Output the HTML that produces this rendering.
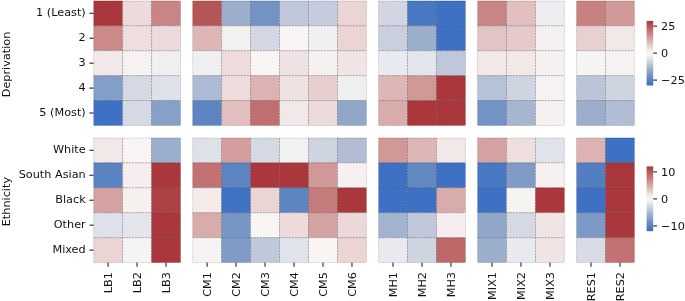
<!DOCTYPE html>
<html><head><meta charset="utf-8"><title>Heatmap</title>
<style>html,body{margin:0;padding:0;background:#fff;}svg{display:block;}text{font-family:"DejaVu Sans","Liberation Sans",sans-serif;font-size:11.25px;fill:#111111;}</style></head><body>
<svg width="685" height="301" viewBox="0 0 685 301">
<rect width="685" height="301" fill="#ffffff"/>
<g opacity="0.999">
<rect x="93.60" y="0.80" width="29.03" height="24.99" fill="#a9373c"/>
<rect x="93.60" y="25.74" width="29.03" height="24.99" fill="#cb8989"/>
<rect x="93.60" y="50.68" width="29.03" height="24.99" fill="#f3e8e8"/>
<rect x="93.60" y="75.62" width="29.03" height="24.99" fill="#839ec7"/>
<rect x="93.60" y="100.56" width="29.03" height="24.99" fill="#3e70c4"/>
<rect x="122.58" y="0.80" width="29.03" height="24.99" fill="#eddada"/>
<rect x="122.58" y="25.74" width="29.03" height="24.99" fill="#efdede"/>
<rect x="122.58" y="50.68" width="29.03" height="24.99" fill="#f7f2f2"/>
<rect x="122.58" y="75.62" width="29.03" height="24.99" fill="#d5d9e4"/>
<rect x="122.58" y="100.56" width="29.03" height="24.99" fill="#d5d9e4"/>
<rect x="151.56" y="0.80" width="29.03" height="24.99" fill="#c98585"/>
<rect x="151.56" y="25.74" width="29.03" height="24.99" fill="#eddada"/>
<rect x="151.56" y="50.68" width="29.03" height="24.99" fill="#efeff2"/>
<rect x="151.56" y="75.62" width="29.03" height="24.99" fill="#dfe1ea"/>
<rect x="151.56" y="100.56" width="29.03" height="24.99" fill="#87a0c8"/>
<rect x="192.59" y="0.80" width="29.03" height="24.99" fill="#b65556"/>
<rect x="192.59" y="25.74" width="29.03" height="24.99" fill="#deb6b6"/>
<rect x="192.59" y="50.68" width="29.03" height="24.99" fill="#efeff2"/>
<rect x="192.59" y="75.62" width="29.03" height="24.99" fill="#acbad3"/>
<rect x="192.59" y="100.56" width="29.03" height="24.99" fill="#5d85c1"/>
<rect x="221.57" y="0.80" width="29.03" height="24.99" fill="#9baecc"/>
<rect x="221.57" y="25.74" width="29.03" height="24.99" fill="#f2f1f2"/>
<rect x="221.57" y="50.68" width="29.03" height="24.99" fill="#eedcdc"/>
<rect x="221.57" y="75.62" width="29.03" height="24.99" fill="#eedcdc"/>
<rect x="221.57" y="100.56" width="29.03" height="24.99" fill="#e2c0c0"/>
<rect x="250.55" y="0.80" width="29.03" height="24.99" fill="#7293c3"/>
<rect x="250.55" y="25.74" width="29.03" height="24.99" fill="#d3d7e3"/>
<rect x="250.55" y="50.68" width="29.03" height="24.99" fill="#f8f5f4"/>
<rect x="250.55" y="75.62" width="29.03" height="24.99" fill="#dcb2b2"/>
<rect x="250.55" y="100.56" width="29.03" height="24.99" fill="#c06e6f"/>
<rect x="279.53" y="0.80" width="29.03" height="24.99" fill="#bec8da"/>
<rect x="279.53" y="25.74" width="29.03" height="24.99" fill="#f8f5f4"/>
<rect x="279.53" y="50.68" width="29.03" height="24.99" fill="#f0e2e2"/>
<rect x="279.53" y="75.62" width="29.03" height="24.99" fill="#f0e2e2"/>
<rect x="279.53" y="100.56" width="29.03" height="24.99" fill="#f3e8e8"/>
<rect x="308.51" y="0.80" width="29.03" height="24.99" fill="#c5ccdd"/>
<rect x="308.51" y="25.74" width="29.03" height="24.99" fill="#f0eff2"/>
<rect x="308.51" y="50.68" width="29.03" height="24.99" fill="#f6f1f0"/>
<rect x="308.51" y="75.62" width="29.03" height="24.99" fill="#e8cece"/>
<rect x="308.51" y="100.56" width="29.03" height="24.99" fill="#eddada"/>
<rect x="337.49" y="0.80" width="29.03" height="24.99" fill="#ead4d4"/>
<rect x="337.49" y="25.74" width="29.03" height="24.99" fill="#ead4d4"/>
<rect x="337.49" y="50.68" width="29.03" height="24.99" fill="#f1e4e4"/>
<rect x="337.49" y="75.62" width="29.03" height="24.99" fill="#efeff2"/>
<rect x="337.49" y="100.56" width="29.03" height="24.99" fill="#91a7ca"/>
<rect x="378.52" y="0.80" width="29.03" height="24.99" fill="#d1d6e2"/>
<rect x="378.52" y="25.74" width="29.03" height="24.99" fill="#c9cfde"/>
<rect x="378.52" y="50.68" width="29.03" height="24.99" fill="#e9eaef"/>
<rect x="378.52" y="75.62" width="29.03" height="24.99" fill="#deb6b6"/>
<rect x="378.52" y="100.56" width="29.03" height="24.99" fill="#d9acac"/>
<rect x="407.50" y="0.80" width="29.03" height="24.99" fill="#4878c2"/>
<rect x="407.50" y="25.74" width="29.03" height="24.99" fill="#9baecc"/>
<rect x="407.50" y="50.68" width="29.03" height="24.99" fill="#e3e5ec"/>
<rect x="407.50" y="75.62" width="29.03" height="24.99" fill="#d19898"/>
<rect x="407.50" y="100.56" width="29.03" height="24.99" fill="#a9373c"/>
<rect x="436.48" y="0.80" width="29.03" height="24.99" fill="#3e70c4"/>
<rect x="436.48" y="25.74" width="29.03" height="24.99" fill="#3e70c4"/>
<rect x="436.48" y="50.68" width="29.03" height="24.99" fill="#bec8da"/>
<rect x="436.48" y="75.62" width="29.03" height="24.99" fill="#a9373c"/>
<rect x="436.48" y="100.56" width="29.03" height="24.99" fill="#a9373c"/>
<rect x="477.51" y="0.80" width="29.03" height="24.99" fill="#c98585"/>
<rect x="477.51" y="25.74" width="29.03" height="24.99" fill="#e3c4c4"/>
<rect x="477.51" y="50.68" width="29.03" height="24.99" fill="#f3e8e8"/>
<rect x="477.51" y="75.62" width="29.03" height="24.99" fill="#b6c2d7"/>
<rect x="477.51" y="100.56" width="29.03" height="24.99" fill="#7293c3"/>
<rect x="506.49" y="0.80" width="29.03" height="24.99" fill="#e2c0c0"/>
<rect x="506.49" y="25.74" width="29.03" height="24.99" fill="#e6caca"/>
<rect x="506.49" y="50.68" width="29.03" height="24.99" fill="#f3e8e8"/>
<rect x="506.49" y="75.62" width="29.03" height="24.99" fill="#cfd4e1"/>
<rect x="506.49" y="100.56" width="29.03" height="24.99" fill="#a5b6d0"/>
<rect x="535.47" y="0.80" width="29.03" height="24.99" fill="#ededf1"/>
<rect x="535.47" y="25.74" width="29.03" height="24.99" fill="#f6f1f0"/>
<rect x="535.47" y="50.68" width="29.03" height="24.99" fill="#f6f1f0"/>
<rect x="535.47" y="75.62" width="29.03" height="24.99" fill="#f7f2f2"/>
<rect x="535.47" y="100.56" width="29.03" height="24.99" fill="#f6f1f0"/>
<rect x="576.50" y="0.80" width="29.03" height="24.99" fill="#c88181"/>
<rect x="576.50" y="25.74" width="29.03" height="24.99" fill="#e9d0d0"/>
<rect x="576.50" y="50.68" width="29.03" height="24.99" fill="#f5f3f3"/>
<rect x="576.50" y="75.62" width="29.03" height="24.99" fill="#bac5d9"/>
<rect x="576.50" y="100.56" width="29.03" height="24.99" fill="#9baecc"/>
<rect x="605.48" y="0.80" width="29.03" height="24.99" fill="#d19898"/>
<rect x="605.48" y="25.74" width="29.03" height="24.99" fill="#f3e8e8"/>
<rect x="605.48" y="50.68" width="29.03" height="24.99" fill="#f7f2f2"/>
<rect x="605.48" y="75.62" width="29.03" height="24.99" fill="#cfd4e1"/>
<rect x="605.48" y="100.56" width="29.03" height="24.99" fill="#b0bdd4"/>
<clipPath id="c0"><rect x="93.60" y="0.80" width="86.94" height="124.70"/><rect x="192.59" y="0.80" width="173.88" height="124.70"/><rect x="378.52" y="0.80" width="86.94" height="124.70"/><rect x="477.51" y="0.80" width="86.94" height="124.70"/><rect x="576.50" y="0.80" width="57.96" height="124.70"/></clipPath>
<g clip-path="url(#c0)">
<line x1="93.60" y1="0.80" x2="180.54" y2="0.80" stroke="rgba(0,0,0,0.6)" stroke-width="0.5" stroke-dasharray="2.3 0.9"/>
<line x1="93.60" y1="25.74" x2="180.54" y2="25.74" stroke="rgba(0,0,0,0.6)" stroke-width="0.5" stroke-dasharray="2.3 0.9"/>
<line x1="93.60" y1="50.68" x2="180.54" y2="50.68" stroke="rgba(0,0,0,0.6)" stroke-width="0.5" stroke-dasharray="2.3 0.9"/>
<line x1="93.60" y1="75.62" x2="180.54" y2="75.62" stroke="rgba(0,0,0,0.6)" stroke-width="0.5" stroke-dasharray="2.3 0.9"/>
<line x1="93.60" y1="100.56" x2="180.54" y2="100.56" stroke="rgba(0,0,0,0.6)" stroke-width="0.5" stroke-dasharray="2.3 0.9"/>
<line x1="93.60" y1="125.50" x2="180.54" y2="125.50" stroke="rgba(0,0,0,0.6)" stroke-width="0.5" stroke-dasharray="2.3 0.9"/>
<line x1="93.60" y1="0.80" x2="93.60" y2="125.50" stroke="rgba(0,0,0,0.6)" stroke-width="0.5" stroke-dasharray="2.3 0.9"/>
<line x1="122.58" y1="0.80" x2="122.58" y2="125.50" stroke="rgba(0,0,0,0.6)" stroke-width="0.5" stroke-dasharray="2.3 0.9"/>
<line x1="151.56" y1="0.80" x2="151.56" y2="125.50" stroke="rgba(0,0,0,0.6)" stroke-width="0.5" stroke-dasharray="2.3 0.9"/>
<line x1="180.54" y1="0.80" x2="180.54" y2="125.50" stroke="rgba(0,0,0,0.6)" stroke-width="0.5" stroke-dasharray="2.3 0.9"/>
<line x1="192.59" y1="0.80" x2="366.47" y2="0.80" stroke="rgba(0,0,0,0.6)" stroke-width="0.5" stroke-dasharray="2.3 0.9"/>
<line x1="192.59" y1="25.74" x2="366.47" y2="25.74" stroke="rgba(0,0,0,0.6)" stroke-width="0.5" stroke-dasharray="2.3 0.9"/>
<line x1="192.59" y1="50.68" x2="366.47" y2="50.68" stroke="rgba(0,0,0,0.6)" stroke-width="0.5" stroke-dasharray="2.3 0.9"/>
<line x1="192.59" y1="75.62" x2="366.47" y2="75.62" stroke="rgba(0,0,0,0.6)" stroke-width="0.5" stroke-dasharray="2.3 0.9"/>
<line x1="192.59" y1="100.56" x2="366.47" y2="100.56" stroke="rgba(0,0,0,0.6)" stroke-width="0.5" stroke-dasharray="2.3 0.9"/>
<line x1="192.59" y1="125.50" x2="366.47" y2="125.50" stroke="rgba(0,0,0,0.6)" stroke-width="0.5" stroke-dasharray="2.3 0.9"/>
<line x1="192.59" y1="0.80" x2="192.59" y2="125.50" stroke="rgba(0,0,0,0.6)" stroke-width="0.5" stroke-dasharray="2.3 0.9"/>
<line x1="221.57" y1="0.80" x2="221.57" y2="125.50" stroke="rgba(0,0,0,0.6)" stroke-width="0.5" stroke-dasharray="2.3 0.9"/>
<line x1="250.55" y1="0.80" x2="250.55" y2="125.50" stroke="rgba(0,0,0,0.6)" stroke-width="0.5" stroke-dasharray="2.3 0.9"/>
<line x1="279.53" y1="0.80" x2="279.53" y2="125.50" stroke="rgba(0,0,0,0.6)" stroke-width="0.5" stroke-dasharray="2.3 0.9"/>
<line x1="308.51" y1="0.80" x2="308.51" y2="125.50" stroke="rgba(0,0,0,0.6)" stroke-width="0.5" stroke-dasharray="2.3 0.9"/>
<line x1="337.49" y1="0.80" x2="337.49" y2="125.50" stroke="rgba(0,0,0,0.6)" stroke-width="0.5" stroke-dasharray="2.3 0.9"/>
<line x1="366.47" y1="0.80" x2="366.47" y2="125.50" stroke="rgba(0,0,0,0.6)" stroke-width="0.5" stroke-dasharray="2.3 0.9"/>
<line x1="378.52" y1="0.80" x2="465.46" y2="0.80" stroke="rgba(0,0,0,0.6)" stroke-width="0.5" stroke-dasharray="2.3 0.9"/>
<line x1="378.52" y1="25.74" x2="465.46" y2="25.74" stroke="rgba(0,0,0,0.6)" stroke-width="0.5" stroke-dasharray="2.3 0.9"/>
<line x1="378.52" y1="50.68" x2="465.46" y2="50.68" stroke="rgba(0,0,0,0.6)" stroke-width="0.5" stroke-dasharray="2.3 0.9"/>
<line x1="378.52" y1="75.62" x2="465.46" y2="75.62" stroke="rgba(0,0,0,0.6)" stroke-width="0.5" stroke-dasharray="2.3 0.9"/>
<line x1="378.52" y1="100.56" x2="465.46" y2="100.56" stroke="rgba(0,0,0,0.6)" stroke-width="0.5" stroke-dasharray="2.3 0.9"/>
<line x1="378.52" y1="125.50" x2="465.46" y2="125.50" stroke="rgba(0,0,0,0.6)" stroke-width="0.5" stroke-dasharray="2.3 0.9"/>
<line x1="378.52" y1="0.80" x2="378.52" y2="125.50" stroke="rgba(0,0,0,0.6)" stroke-width="0.5" stroke-dasharray="2.3 0.9"/>
<line x1="407.50" y1="0.80" x2="407.50" y2="125.50" stroke="rgba(0,0,0,0.6)" stroke-width="0.5" stroke-dasharray="2.3 0.9"/>
<line x1="436.48" y1="0.80" x2="436.48" y2="125.50" stroke="rgba(0,0,0,0.6)" stroke-width="0.5" stroke-dasharray="2.3 0.9"/>
<line x1="465.46" y1="0.80" x2="465.46" y2="125.50" stroke="rgba(0,0,0,0.6)" stroke-width="0.5" stroke-dasharray="2.3 0.9"/>
<line x1="477.51" y1="0.80" x2="564.45" y2="0.80" stroke="rgba(0,0,0,0.6)" stroke-width="0.5" stroke-dasharray="2.3 0.9"/>
<line x1="477.51" y1="25.74" x2="564.45" y2="25.74" stroke="rgba(0,0,0,0.6)" stroke-width="0.5" stroke-dasharray="2.3 0.9"/>
<line x1="477.51" y1="50.68" x2="564.45" y2="50.68" stroke="rgba(0,0,0,0.6)" stroke-width="0.5" stroke-dasharray="2.3 0.9"/>
<line x1="477.51" y1="75.62" x2="564.45" y2="75.62" stroke="rgba(0,0,0,0.6)" stroke-width="0.5" stroke-dasharray="2.3 0.9"/>
<line x1="477.51" y1="100.56" x2="564.45" y2="100.56" stroke="rgba(0,0,0,0.6)" stroke-width="0.5" stroke-dasharray="2.3 0.9"/>
<line x1="477.51" y1="125.50" x2="564.45" y2="125.50" stroke="rgba(0,0,0,0.6)" stroke-width="0.5" stroke-dasharray="2.3 0.9"/>
<line x1="477.51" y1="0.80" x2="477.51" y2="125.50" stroke="rgba(0,0,0,0.6)" stroke-width="0.5" stroke-dasharray="2.3 0.9"/>
<line x1="506.49" y1="0.80" x2="506.49" y2="125.50" stroke="rgba(0,0,0,0.6)" stroke-width="0.5" stroke-dasharray="2.3 0.9"/>
<line x1="535.47" y1="0.80" x2="535.47" y2="125.50" stroke="rgba(0,0,0,0.6)" stroke-width="0.5" stroke-dasharray="2.3 0.9"/>
<line x1="564.45" y1="0.80" x2="564.45" y2="125.50" stroke="rgba(0,0,0,0.6)" stroke-width="0.5" stroke-dasharray="2.3 0.9"/>
<line x1="576.50" y1="0.80" x2="634.46" y2="0.80" stroke="rgba(0,0,0,0.6)" stroke-width="0.5" stroke-dasharray="2.3 0.9"/>
<line x1="576.50" y1="25.74" x2="634.46" y2="25.74" stroke="rgba(0,0,0,0.6)" stroke-width="0.5" stroke-dasharray="2.3 0.9"/>
<line x1="576.50" y1="50.68" x2="634.46" y2="50.68" stroke="rgba(0,0,0,0.6)" stroke-width="0.5" stroke-dasharray="2.3 0.9"/>
<line x1="576.50" y1="75.62" x2="634.46" y2="75.62" stroke="rgba(0,0,0,0.6)" stroke-width="0.5" stroke-dasharray="2.3 0.9"/>
<line x1="576.50" y1="100.56" x2="634.46" y2="100.56" stroke="rgba(0,0,0,0.6)" stroke-width="0.5" stroke-dasharray="2.3 0.9"/>
<line x1="576.50" y1="125.50" x2="634.46" y2="125.50" stroke="rgba(0,0,0,0.6)" stroke-width="0.5" stroke-dasharray="2.3 0.9"/>
<line x1="576.50" y1="0.80" x2="576.50" y2="125.50" stroke="rgba(0,0,0,0.6)" stroke-width="0.5" stroke-dasharray="2.3 0.9"/>
<line x1="605.48" y1="0.80" x2="605.48" y2="125.50" stroke="rgba(0,0,0,0.6)" stroke-width="0.5" stroke-dasharray="2.3 0.9"/>
<line x1="634.46" y1="0.80" x2="634.46" y2="125.50" stroke="rgba(0,0,0,0.6)" stroke-width="0.5" stroke-dasharray="2.3 0.9"/>
</g>
<line x1="89.40" y1="13.27" x2="93.60" y2="13.27" stroke="#111111" stroke-width="1"/>
<text x="85.70" y="16.37" text-anchor="end">1 (Least)</text>
<line x1="89.40" y1="38.21" x2="93.60" y2="38.21" stroke="#111111" stroke-width="1"/>
<text x="85.70" y="41.31" text-anchor="end">2</text>
<line x1="89.40" y1="63.15" x2="93.60" y2="63.15" stroke="#111111" stroke-width="1"/>
<text x="85.70" y="66.25" text-anchor="end">3</text>
<line x1="89.40" y1="88.09" x2="93.60" y2="88.09" stroke="#111111" stroke-width="1"/>
<text x="85.70" y="91.19" text-anchor="end">4</text>
<line x1="89.40" y1="113.03" x2="93.60" y2="113.03" stroke="#111111" stroke-width="1"/>
<text x="85.70" y="116.13" text-anchor="end">5 (Most)</text>
<rect x="93.60" y="137.80" width="29.03" height="25.01" fill="#f3e8e8"/>
<rect x="93.60" y="162.76" width="29.03" height="25.01" fill="#5983c1"/>
<rect x="93.60" y="187.72" width="29.03" height="25.01" fill="#d5a2a2"/>
<rect x="93.60" y="212.68" width="29.03" height="25.01" fill="#dfe1ea"/>
<rect x="93.60" y="237.64" width="29.03" height="25.01" fill="#ead4d4"/>
<rect x="122.58" y="137.80" width="29.03" height="25.01" fill="#f8f5f4"/>
<rect x="122.58" y="162.76" width="29.03" height="25.01" fill="#f6eeee"/>
<rect x="122.58" y="187.72" width="29.03" height="25.01" fill="#f6f0ef"/>
<rect x="122.58" y="212.68" width="29.03" height="25.01" fill="#e5e6ed"/>
<rect x="122.58" y="237.64" width="29.03" height="25.01" fill="#f5f3f3"/>
<rect x="151.56" y="137.80" width="29.03" height="25.01" fill="#9baecc"/>
<rect x="151.56" y="162.76" width="29.03" height="25.01" fill="#a9373c"/>
<rect x="151.56" y="187.72" width="29.03" height="25.01" fill="#ae4145"/>
<rect x="151.56" y="212.68" width="29.03" height="25.01" fill="#a9373c"/>
<rect x="151.56" y="237.64" width="29.03" height="25.01" fill="#a9373c"/>
<rect x="192.59" y="137.80" width="29.03" height="25.01" fill="#dfe1ea"/>
<rect x="192.59" y="162.76" width="29.03" height="25.01" fill="#c27272"/>
<rect x="192.59" y="187.72" width="29.03" height="25.01" fill="#f4ebea"/>
<rect x="192.59" y="212.68" width="29.03" height="25.01" fill="#d9acac"/>
<rect x="192.59" y="237.64" width="29.03" height="25.01" fill="#f6f3f3"/>
<rect x="221.57" y="137.80" width="29.03" height="25.01" fill="#d49e9e"/>
<rect x="221.57" y="162.76" width="29.03" height="25.01" fill="#5d85c1"/>
<rect x="221.57" y="187.72" width="29.03" height="25.01" fill="#4072c4"/>
<rect x="221.57" y="212.68" width="29.03" height="25.01" fill="#7696c4"/>
<rect x="221.57" y="237.64" width="29.03" height="25.01" fill="#809cc6"/>
<rect x="250.55" y="137.80" width="29.03" height="25.01" fill="#d5d9e4"/>
<rect x="250.55" y="162.76" width="29.03" height="25.01" fill="#a9373c"/>
<rect x="250.55" y="187.72" width="29.03" height="25.01" fill="#ead4d4"/>
<rect x="250.55" y="212.68" width="29.03" height="25.01" fill="#f8f5f4"/>
<rect x="250.55" y="237.64" width="29.03" height="25.01" fill="#c0c9db"/>
<rect x="279.53" y="137.80" width="29.03" height="25.01" fill="#f2f1f2"/>
<rect x="279.53" y="162.76" width="29.03" height="25.01" fill="#a9373c"/>
<rect x="279.53" y="187.72" width="29.03" height="25.01" fill="#5d85c1"/>
<rect x="279.53" y="212.68" width="29.03" height="25.01" fill="#eddada"/>
<rect x="279.53" y="237.64" width="29.03" height="25.01" fill="#e1e3eb"/>
<rect x="308.51" y="137.80" width="29.03" height="25.01" fill="#cfd4e1"/>
<rect x="308.51" y="162.76" width="29.03" height="25.01" fill="#d19898"/>
<rect x="308.51" y="187.72" width="29.03" height="25.01" fill="#c67b7c"/>
<rect x="308.51" y="212.68" width="29.03" height="25.01" fill="#d5a2a2"/>
<rect x="308.51" y="237.64" width="29.03" height="25.01" fill="#f8f5f4"/>
<rect x="337.49" y="137.80" width="29.03" height="25.01" fill="#b0bdd4"/>
<rect x="337.49" y="162.76" width="29.03" height="25.01" fill="#f6f1f0"/>
<rect x="337.49" y="187.72" width="29.03" height="25.01" fill="#a9373c"/>
<rect x="337.49" y="212.68" width="29.03" height="25.01" fill="#ecd8d8"/>
<rect x="337.49" y="237.64" width="29.03" height="25.01" fill="#ead4d4"/>
<rect x="378.52" y="137.80" width="29.03" height="25.01" fill="#d19898"/>
<rect x="378.52" y="162.76" width="29.03" height="25.01" fill="#3e70c4"/>
<rect x="378.52" y="187.72" width="29.03" height="25.01" fill="#3e70c4"/>
<rect x="378.52" y="212.68" width="29.03" height="25.01" fill="#a1b3cf"/>
<rect x="378.52" y="237.64" width="29.03" height="25.01" fill="#e9eaef"/>
<rect x="407.50" y="137.80" width="29.03" height="25.01" fill="#deb6b6"/>
<rect x="407.50" y="162.76" width="29.03" height="25.01" fill="#6288c1"/>
<rect x="407.50" y="187.72" width="29.03" height="25.01" fill="#3e70c4"/>
<rect x="407.50" y="212.68" width="29.03" height="25.01" fill="#c0c9db"/>
<rect x="407.50" y="237.64" width="29.03" height="25.01" fill="#cfd4e1"/>
<rect x="436.48" y="137.80" width="29.03" height="25.01" fill="#f3e8e8"/>
<rect x="436.48" y="162.76" width="29.03" height="25.01" fill="#3e70c4"/>
<rect x="436.48" y="187.72" width="29.03" height="25.01" fill="#d9acac"/>
<rect x="436.48" y="212.68" width="29.03" height="25.01" fill="#f6eeee"/>
<rect x="436.48" y="237.64" width="29.03" height="25.01" fill="#be6869"/>
<rect x="477.51" y="137.80" width="29.03" height="25.01" fill="#d5a2a2"/>
<rect x="477.51" y="162.76" width="29.03" height="25.01" fill="#4878c2"/>
<rect x="477.51" y="187.72" width="29.03" height="25.01" fill="#3e70c4"/>
<rect x="477.51" y="212.68" width="29.03" height="25.01" fill="#91a7ca"/>
<rect x="477.51" y="237.64" width="29.03" height="25.01" fill="#9baecc"/>
<rect x="506.49" y="137.80" width="29.03" height="25.01" fill="#efdede"/>
<rect x="506.49" y="162.76" width="29.03" height="25.01" fill="#809cc6"/>
<rect x="506.49" y="187.72" width="29.03" height="25.01" fill="#f6f3f3"/>
<rect x="506.49" y="212.68" width="29.03" height="25.01" fill="#d5d9e4"/>
<rect x="506.49" y="237.64" width="29.03" height="25.01" fill="#e9eaef"/>
<rect x="535.47" y="137.80" width="29.03" height="25.01" fill="#e1e3eb"/>
<rect x="535.47" y="162.76" width="29.03" height="25.01" fill="#f6f1f0"/>
<rect x="535.47" y="187.72" width="29.03" height="25.01" fill="#a9373c"/>
<rect x="535.47" y="212.68" width="29.03" height="25.01" fill="#f1e4e4"/>
<rect x="535.47" y="237.64" width="29.03" height="25.01" fill="#f1e4e4"/>
<rect x="576.50" y="137.80" width="29.03" height="25.01" fill="#dcb2b2"/>
<rect x="576.50" y="162.76" width="29.03" height="25.01" fill="#537fc2"/>
<rect x="576.50" y="187.72" width="29.03" height="25.01" fill="#3e70c4"/>
<rect x="576.50" y="212.68" width="29.03" height="25.01" fill="#7c9ac5"/>
<rect x="576.50" y="237.64" width="29.03" height="25.01" fill="#d9dce6"/>
<rect x="605.48" y="137.80" width="29.03" height="25.01" fill="#3e70c4"/>
<rect x="605.48" y="162.76" width="29.03" height="25.01" fill="#a9373c"/>
<rect x="605.48" y="187.72" width="29.03" height="25.01" fill="#a9373c"/>
<rect x="605.48" y="212.68" width="29.03" height="25.01" fill="#a9373c"/>
<rect x="605.48" y="237.64" width="29.03" height="25.01" fill="#c27272"/>
<clipPath id="c137"><rect x="93.60" y="137.80" width="86.94" height="124.80"/><rect x="192.59" y="137.80" width="173.88" height="124.80"/><rect x="378.52" y="137.80" width="86.94" height="124.80"/><rect x="477.51" y="137.80" width="86.94" height="124.80"/><rect x="576.50" y="137.80" width="57.96" height="124.80"/></clipPath>
<g clip-path="url(#c137)">
<line x1="93.60" y1="137.80" x2="180.54" y2="137.80" stroke="rgba(0,0,0,0.6)" stroke-width="0.5" stroke-dasharray="2.3 0.9"/>
<line x1="93.60" y1="162.76" x2="180.54" y2="162.76" stroke="rgba(0,0,0,0.6)" stroke-width="0.5" stroke-dasharray="2.3 0.9"/>
<line x1="93.60" y1="187.72" x2="180.54" y2="187.72" stroke="rgba(0,0,0,0.6)" stroke-width="0.5" stroke-dasharray="2.3 0.9"/>
<line x1="93.60" y1="212.68" x2="180.54" y2="212.68" stroke="rgba(0,0,0,0.6)" stroke-width="0.5" stroke-dasharray="2.3 0.9"/>
<line x1="93.60" y1="237.64" x2="180.54" y2="237.64" stroke="rgba(0,0,0,0.6)" stroke-width="0.5" stroke-dasharray="2.3 0.9"/>
<line x1="93.60" y1="262.60" x2="180.54" y2="262.60" stroke="rgba(0,0,0,0.6)" stroke-width="0.5" stroke-dasharray="2.3 0.9"/>
<line x1="93.60" y1="137.80" x2="93.60" y2="262.60" stroke="rgba(0,0,0,0.6)" stroke-width="0.5" stroke-dasharray="2.3 0.9"/>
<line x1="122.58" y1="137.80" x2="122.58" y2="262.60" stroke="rgba(0,0,0,0.6)" stroke-width="0.5" stroke-dasharray="2.3 0.9"/>
<line x1="151.56" y1="137.80" x2="151.56" y2="262.60" stroke="rgba(0,0,0,0.6)" stroke-width="0.5" stroke-dasharray="2.3 0.9"/>
<line x1="180.54" y1="137.80" x2="180.54" y2="262.60" stroke="rgba(0,0,0,0.6)" stroke-width="0.5" stroke-dasharray="2.3 0.9"/>
<line x1="192.59" y1="137.80" x2="366.47" y2="137.80" stroke="rgba(0,0,0,0.6)" stroke-width="0.5" stroke-dasharray="2.3 0.9"/>
<line x1="192.59" y1="162.76" x2="366.47" y2="162.76" stroke="rgba(0,0,0,0.6)" stroke-width="0.5" stroke-dasharray="2.3 0.9"/>
<line x1="192.59" y1="187.72" x2="366.47" y2="187.72" stroke="rgba(0,0,0,0.6)" stroke-width="0.5" stroke-dasharray="2.3 0.9"/>
<line x1="192.59" y1="212.68" x2="366.47" y2="212.68" stroke="rgba(0,0,0,0.6)" stroke-width="0.5" stroke-dasharray="2.3 0.9"/>
<line x1="192.59" y1="237.64" x2="366.47" y2="237.64" stroke="rgba(0,0,0,0.6)" stroke-width="0.5" stroke-dasharray="2.3 0.9"/>
<line x1="192.59" y1="262.60" x2="366.47" y2="262.60" stroke="rgba(0,0,0,0.6)" stroke-width="0.5" stroke-dasharray="2.3 0.9"/>
<line x1="192.59" y1="137.80" x2="192.59" y2="262.60" stroke="rgba(0,0,0,0.6)" stroke-width="0.5" stroke-dasharray="2.3 0.9"/>
<line x1="221.57" y1="137.80" x2="221.57" y2="262.60" stroke="rgba(0,0,0,0.6)" stroke-width="0.5" stroke-dasharray="2.3 0.9"/>
<line x1="250.55" y1="137.80" x2="250.55" y2="262.60" stroke="rgba(0,0,0,0.6)" stroke-width="0.5" stroke-dasharray="2.3 0.9"/>
<line x1="279.53" y1="137.80" x2="279.53" y2="262.60" stroke="rgba(0,0,0,0.6)" stroke-width="0.5" stroke-dasharray="2.3 0.9"/>
<line x1="308.51" y1="137.80" x2="308.51" y2="262.60" stroke="rgba(0,0,0,0.6)" stroke-width="0.5" stroke-dasharray="2.3 0.9"/>
<line x1="337.49" y1="137.80" x2="337.49" y2="262.60" stroke="rgba(0,0,0,0.6)" stroke-width="0.5" stroke-dasharray="2.3 0.9"/>
<line x1="366.47" y1="137.80" x2="366.47" y2="262.60" stroke="rgba(0,0,0,0.6)" stroke-width="0.5" stroke-dasharray="2.3 0.9"/>
<line x1="378.52" y1="137.80" x2="465.46" y2="137.80" stroke="rgba(0,0,0,0.6)" stroke-width="0.5" stroke-dasharray="2.3 0.9"/>
<line x1="378.52" y1="162.76" x2="465.46" y2="162.76" stroke="rgba(0,0,0,0.6)" stroke-width="0.5" stroke-dasharray="2.3 0.9"/>
<line x1="378.52" y1="187.72" x2="465.46" y2="187.72" stroke="rgba(0,0,0,0.6)" stroke-width="0.5" stroke-dasharray="2.3 0.9"/>
<line x1="378.52" y1="212.68" x2="465.46" y2="212.68" stroke="rgba(0,0,0,0.6)" stroke-width="0.5" stroke-dasharray="2.3 0.9"/>
<line x1="378.52" y1="237.64" x2="465.46" y2="237.64" stroke="rgba(0,0,0,0.6)" stroke-width="0.5" stroke-dasharray="2.3 0.9"/>
<line x1="378.52" y1="262.60" x2="465.46" y2="262.60" stroke="rgba(0,0,0,0.6)" stroke-width="0.5" stroke-dasharray="2.3 0.9"/>
<line x1="378.52" y1="137.80" x2="378.52" y2="262.60" stroke="rgba(0,0,0,0.6)" stroke-width="0.5" stroke-dasharray="2.3 0.9"/>
<line x1="407.50" y1="137.80" x2="407.50" y2="262.60" stroke="rgba(0,0,0,0.6)" stroke-width="0.5" stroke-dasharray="2.3 0.9"/>
<line x1="436.48" y1="137.80" x2="436.48" y2="262.60" stroke="rgba(0,0,0,0.6)" stroke-width="0.5" stroke-dasharray="2.3 0.9"/>
<line x1="465.46" y1="137.80" x2="465.46" y2="262.60" stroke="rgba(0,0,0,0.6)" stroke-width="0.5" stroke-dasharray="2.3 0.9"/>
<line x1="477.51" y1="137.80" x2="564.45" y2="137.80" stroke="rgba(0,0,0,0.6)" stroke-width="0.5" stroke-dasharray="2.3 0.9"/>
<line x1="477.51" y1="162.76" x2="564.45" y2="162.76" stroke="rgba(0,0,0,0.6)" stroke-width="0.5" stroke-dasharray="2.3 0.9"/>
<line x1="477.51" y1="187.72" x2="564.45" y2="187.72" stroke="rgba(0,0,0,0.6)" stroke-width="0.5" stroke-dasharray="2.3 0.9"/>
<line x1="477.51" y1="212.68" x2="564.45" y2="212.68" stroke="rgba(0,0,0,0.6)" stroke-width="0.5" stroke-dasharray="2.3 0.9"/>
<line x1="477.51" y1="237.64" x2="564.45" y2="237.64" stroke="rgba(0,0,0,0.6)" stroke-width="0.5" stroke-dasharray="2.3 0.9"/>
<line x1="477.51" y1="262.60" x2="564.45" y2="262.60" stroke="rgba(0,0,0,0.6)" stroke-width="0.5" stroke-dasharray="2.3 0.9"/>
<line x1="477.51" y1="137.80" x2="477.51" y2="262.60" stroke="rgba(0,0,0,0.6)" stroke-width="0.5" stroke-dasharray="2.3 0.9"/>
<line x1="506.49" y1="137.80" x2="506.49" y2="262.60" stroke="rgba(0,0,0,0.6)" stroke-width="0.5" stroke-dasharray="2.3 0.9"/>
<line x1="535.47" y1="137.80" x2="535.47" y2="262.60" stroke="rgba(0,0,0,0.6)" stroke-width="0.5" stroke-dasharray="2.3 0.9"/>
<line x1="564.45" y1="137.80" x2="564.45" y2="262.60" stroke="rgba(0,0,0,0.6)" stroke-width="0.5" stroke-dasharray="2.3 0.9"/>
<line x1="576.50" y1="137.80" x2="634.46" y2="137.80" stroke="rgba(0,0,0,0.6)" stroke-width="0.5" stroke-dasharray="2.3 0.9"/>
<line x1="576.50" y1="162.76" x2="634.46" y2="162.76" stroke="rgba(0,0,0,0.6)" stroke-width="0.5" stroke-dasharray="2.3 0.9"/>
<line x1="576.50" y1="187.72" x2="634.46" y2="187.72" stroke="rgba(0,0,0,0.6)" stroke-width="0.5" stroke-dasharray="2.3 0.9"/>
<line x1="576.50" y1="212.68" x2="634.46" y2="212.68" stroke="rgba(0,0,0,0.6)" stroke-width="0.5" stroke-dasharray="2.3 0.9"/>
<line x1="576.50" y1="237.64" x2="634.46" y2="237.64" stroke="rgba(0,0,0,0.6)" stroke-width="0.5" stroke-dasharray="2.3 0.9"/>
<line x1="576.50" y1="262.60" x2="634.46" y2="262.60" stroke="rgba(0,0,0,0.6)" stroke-width="0.5" stroke-dasharray="2.3 0.9"/>
<line x1="576.50" y1="137.80" x2="576.50" y2="262.60" stroke="rgba(0,0,0,0.6)" stroke-width="0.5" stroke-dasharray="2.3 0.9"/>
<line x1="605.48" y1="137.80" x2="605.48" y2="262.60" stroke="rgba(0,0,0,0.6)" stroke-width="0.5" stroke-dasharray="2.3 0.9"/>
<line x1="634.46" y1="137.80" x2="634.46" y2="262.60" stroke="rgba(0,0,0,0.6)" stroke-width="0.5" stroke-dasharray="2.3 0.9"/>
</g>
<line x1="89.40" y1="150.28" x2="93.60" y2="150.28" stroke="#111111" stroke-width="1"/>
<text x="85.70" y="153.38" text-anchor="end">White</text>
<line x1="89.40" y1="175.24" x2="93.60" y2="175.24" stroke="#111111" stroke-width="1"/>
<text x="85.70" y="178.34" text-anchor="end">South Asian</text>
<line x1="89.40" y1="200.20" x2="93.60" y2="200.20" stroke="#111111" stroke-width="1"/>
<text x="85.70" y="203.30" text-anchor="end">Black</text>
<line x1="89.40" y1="225.16" x2="93.60" y2="225.16" stroke="#111111" stroke-width="1"/>
<text x="85.70" y="228.26" text-anchor="end">Other</text>
<line x1="89.40" y1="250.12" x2="93.60" y2="250.12" stroke="#111111" stroke-width="1"/>
<text x="85.70" y="253.22" text-anchor="end">Mixed</text>
<line x1="108.09" y1="262.60" x2="108.09" y2="266.80" stroke="#111111" stroke-width="1"/>
<text transform="translate(112.29,272.00) rotate(-90)" text-anchor="end">LB1</text>
<line x1="137.07" y1="262.60" x2="137.07" y2="266.80" stroke="#111111" stroke-width="1"/>
<text transform="translate(141.27,272.00) rotate(-90)" text-anchor="end">LB2</text>
<line x1="166.05" y1="262.60" x2="166.05" y2="266.80" stroke="#111111" stroke-width="1"/>
<text transform="translate(170.25,272.00) rotate(-90)" text-anchor="end">LB3</text>
<line x1="207.08" y1="262.60" x2="207.08" y2="266.80" stroke="#111111" stroke-width="1"/>
<text transform="translate(211.28,272.00) rotate(-90)" text-anchor="end">CM1</text>
<line x1="236.06" y1="262.60" x2="236.06" y2="266.80" stroke="#111111" stroke-width="1"/>
<text transform="translate(240.26,272.00) rotate(-90)" text-anchor="end">CM2</text>
<line x1="265.04" y1="262.60" x2="265.04" y2="266.80" stroke="#111111" stroke-width="1"/>
<text transform="translate(269.24,272.00) rotate(-90)" text-anchor="end">CM3</text>
<line x1="294.02" y1="262.60" x2="294.02" y2="266.80" stroke="#111111" stroke-width="1"/>
<text transform="translate(298.22,272.00) rotate(-90)" text-anchor="end">CM4</text>
<line x1="323.00" y1="262.60" x2="323.00" y2="266.80" stroke="#111111" stroke-width="1"/>
<text transform="translate(327.20,272.00) rotate(-90)" text-anchor="end">CM5</text>
<line x1="351.98" y1="262.60" x2="351.98" y2="266.80" stroke="#111111" stroke-width="1"/>
<text transform="translate(356.18,272.00) rotate(-90)" text-anchor="end">CM6</text>
<line x1="393.01" y1="262.60" x2="393.01" y2="266.80" stroke="#111111" stroke-width="1"/>
<text transform="translate(397.21,272.00) rotate(-90)" text-anchor="end">MH1</text>
<line x1="421.99" y1="262.60" x2="421.99" y2="266.80" stroke="#111111" stroke-width="1"/>
<text transform="translate(426.19,272.00) rotate(-90)" text-anchor="end">MH2</text>
<line x1="450.97" y1="262.60" x2="450.97" y2="266.80" stroke="#111111" stroke-width="1"/>
<text transform="translate(455.17,272.00) rotate(-90)" text-anchor="end">MH3</text>
<line x1="492.00" y1="262.60" x2="492.00" y2="266.80" stroke="#111111" stroke-width="1"/>
<text transform="translate(496.20,272.00) rotate(-90)" text-anchor="end">MIX1</text>
<line x1="520.98" y1="262.60" x2="520.98" y2="266.80" stroke="#111111" stroke-width="1"/>
<text transform="translate(525.18,272.00) rotate(-90)" text-anchor="end">MIX2</text>
<line x1="549.96" y1="262.60" x2="549.96" y2="266.80" stroke="#111111" stroke-width="1"/>
<text transform="translate(554.16,272.00) rotate(-90)" text-anchor="end">MIX3</text>
<line x1="590.99" y1="262.60" x2="590.99" y2="266.80" stroke="#111111" stroke-width="1"/>
<text transform="translate(595.19,272.00) rotate(-90)" text-anchor="end">RES1</text>
<line x1="619.97" y1="262.60" x2="619.97" y2="266.80" stroke="#111111" stroke-width="1"/>
<text transform="translate(624.17,272.00) rotate(-90)" text-anchor="end">RES2</text>
<text transform="translate(10.00,64.45) rotate(-90)" text-anchor="middle">Deprivation</text>
<text transform="translate(10.00,201.60) rotate(-90)" text-anchor="middle">Ethnicity</text>
<defs><linearGradient id="vl" x1="0" y1="1" x2="0" y2="0">
<stop offset="0.0000" stop-color="#3e70c4"/>
<stop offset="0.0250" stop-color="#4374c3"/>
<stop offset="0.0500" stop-color="#4878c2"/>
<stop offset="0.0750" stop-color="#537fc2"/>
<stop offset="0.1000" stop-color="#5d85c1"/>
<stop offset="0.1250" stop-color="#688cc1"/>
<stop offset="0.1500" stop-color="#7293c3"/>
<stop offset="0.1750" stop-color="#7c9ac5"/>
<stop offset="0.2000" stop-color="#87a0c8"/>
<stop offset="0.2250" stop-color="#91a7ca"/>
<stop offset="0.2500" stop-color="#9baecc"/>
<stop offset="0.2750" stop-color="#a5b6d0"/>
<stop offset="0.3000" stop-color="#b0bdd4"/>
<stop offset="0.3250" stop-color="#bac5d9"/>
<stop offset="0.3500" stop-color="#c5ccdd"/>
<stop offset="0.3750" stop-color="#cfd4e1"/>
<stop offset="0.4000" stop-color="#d9dce6"/>
<stop offset="0.4250" stop-color="#e3e5ec"/>
<stop offset="0.4500" stop-color="#ededf1"/>
<stop offset="0.4750" stop-color="#f2f1f2"/>
<stop offset="0.5000" stop-color="#f8f5f4"/>
<stop offset="0.5250" stop-color="#f6eeee"/>
<stop offset="0.5500" stop-color="#f3e8e8"/>
<stop offset="0.5750" stop-color="#efdede"/>
<stop offset="0.6000" stop-color="#ead4d4"/>
<stop offset="0.6250" stop-color="#e6caca"/>
<stop offset="0.6500" stop-color="#e2c0c0"/>
<stop offset="0.6750" stop-color="#deb6b6"/>
<stop offset="0.7000" stop-color="#d9acac"/>
<stop offset="0.7250" stop-color="#d5a2a2"/>
<stop offset="0.7500" stop-color="#d19898"/>
<stop offset="0.7750" stop-color="#cd8e8f"/>
<stop offset="0.8000" stop-color="#c98585"/>
<stop offset="0.8250" stop-color="#c67b7c"/>
<stop offset="0.8500" stop-color="#c27272"/>
<stop offset="0.8750" stop-color="#be6869"/>
<stop offset="0.9000" stop-color="#ba5e60"/>
<stop offset="0.9250" stop-color="#b65556"/>
<stop offset="0.9500" stop-color="#b24b4d"/>
<stop offset="0.9750" stop-color="#ae4145"/>
<stop offset="1.0000" stop-color="#a9373c"/>
</linearGradient></defs>
<rect x="646.6" y="20.90" width="6.6" height="64.60" fill="url(#vl)"/>
<line x1="653.2" y1="26.10" x2="657" y2="26.10" stroke="#111111" stroke-width="1"/>
<text x="661.1" y="30.20">25</text>
<line x1="653.2" y1="53.10" x2="657" y2="53.10" stroke="#111111" stroke-width="1"/>
<text x="661.1" y="57.20">0</text>
<line x1="653.2" y1="80.10" x2="657" y2="80.10" stroke="#111111" stroke-width="1"/>
<text x="661.1" y="84.20">−25</text>
<rect x="646.6" y="166.40" width="6.6" height="64.80" fill="url(#vl)"/>
<line x1="653.2" y1="171.90" x2="657" y2="171.90" stroke="#111111" stroke-width="1"/>
<text x="661.1" y="176.00">10</text>
<line x1="653.2" y1="198.90" x2="657" y2="198.90" stroke="#111111" stroke-width="1"/>
<text x="661.1" y="203.00">0</text>
<line x1="653.2" y1="225.90" x2="657" y2="225.90" stroke="#111111" stroke-width="1"/>
<text x="661.1" y="230.00">−10</text>
</g>
</svg></body></html>
